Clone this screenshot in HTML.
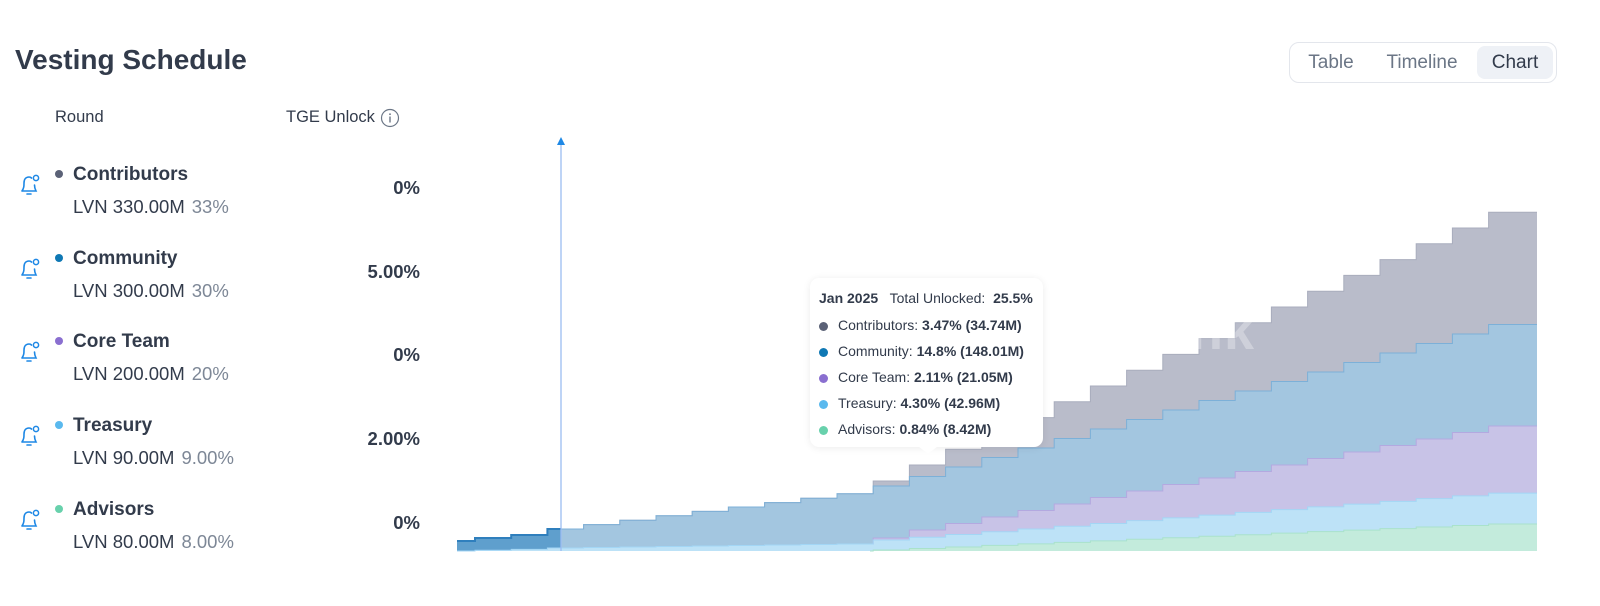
<!DOCTYPE html>
<html><head><meta charset="utf-8"><style>
*{margin:0;padding:0;box-sizing:border-box}
body{width:1600px;height:606px;background:#fff;font-family:"Liberation Sans",sans-serif;position:relative;overflow:hidden;color:#323b4b}
.abs{position:absolute;white-space:nowrap}
.title{left:15px;top:44px;font-size:28px;font-weight:bold;color:#323b4b}
.tabs{left:1289px;top:42px;width:268px;height:41px;border:1px solid #e3e6ec;border-radius:10px}
.tab{position:absolute;top:3px;height:33px;line-height:33px;font-size:19px;color:#6b7686;text-align:center}
.hdr{font-size:16.5px;color:#323b4b;top:108px}
.name{font-size:19px;font-weight:bold;color:#323b4b}
.sub{font-size:18.5px;color:#323b4b}
.sub span{color:#7d8796;margin-left:7px}
.pct{font-size:18.5px;font-weight:bold;color:#323b4b;right:1180px;text-align:right}
.dot{width:8px;height:8px;border-radius:50%}
.tip{left:810px;top:278px;width:233px;height:169px;background:#fff;border-radius:9px;box-shadow:0 1px 8px rgba(0,0,0,.08);font-size:14px;color:#323b4b}
.tip .r{position:absolute;left:28px}
.tip .d{position:absolute;left:9px;width:9px;height:9px;border-radius:50%}
</style></head><body>
<div class="abs title">Vesting Schedule</div>
<div class="abs tabs">
<div class="tab" style="left:3px;width:76px">Table</div>
<div class="tab" style="left:82px;width:100px">Timeline</div>
<div class="tab" style="left:187px;width:76px;background:#eef1f6;border-radius:8px;color:#323b4b">Chart</div>
</div>
<div class="abs hdr" style="left:55px">Round</div>
<div class="abs hdr" style="left:286px">TGE Unlock</div>
<svg class="abs" style="left:380px;top:108px" width="20" height="20"><circle cx="10" cy="10" r="8.5" fill="none" stroke="#6b7686" stroke-width="1.2"/><rect x="9.3" y="8.5" width="1.4" height="6" fill="#6b7686"/><circle cx="10" cy="6.2" r="0.9" fill="#6b7686"/></svg>
<div id="rows"></div>
<svg class="abs" style="left:0;top:0" width="1600" height="606" id="ch"></svg>
<div class="abs" style="left:1050px;top:300px;font-size:54px;font-weight:bold;color:rgba(255,255,255,0.3);letter-spacing:1px">ptorank</div>
<div class="abs tip">
<div class="r" style="left:9px;top:12px"><b>Jan 2025</b>&nbsp;&nbsp; Total Unlocked:&nbsp; <b>25.5%</b></div>
<div class="d" style="top:44px;background:#5b6277"></div><div class="r" style="top:39px">Contributors: <b>3.47% (34.74M)</b></div>
<div class="d" style="top:70px;background:#0f78b4"></div><div class="r" style="top:65px">Community: <b>14.8% (148.01M)</b></div>
<div class="d" style="top:96px;background:#8a6fd0"></div><div class="r" style="top:91px">Core Team: <b>2.11% (21.05M)</b></div>
<div class="d" style="top:122px;background:#5ab9ee"></div><div class="r" style="top:117px">Treasury: <b>4.30% (42.96M)</b></div>
<div class="d" style="top:148px;background:#68d1ac"></div><div class="r" style="top:143px">Advisors: <b>0.84% (8.42M)</b></div>
</div>
<svg class="abs" style="left:918px;top:446px" width="20" height="10"><path d="M0 0 L10 8 L20 0Z" fill="#fff"/></svg>
<script>
var rows=[["Contributors","#5b6277","LVN 330.00M","33%","0%"],["Community","#0f78b4","LVN 300.00M","30%","5.00%"],["Core Team","#8a6fd0","LVN 200.00M","20%","0%"],["Treasury","#5ab9ee","LVN 90.00M","9.00%","2.00%"],["Advisors","#68d1ac","LVN 80.00M","8.00%","0%"]];
var h="";
rows.forEach(function(r,i){var y=164+i*83.7;
h+='<svg class="abs" style="left:17px;top:'+(y+8)+'px" width="26" height="26"><path d="M5 19 C7 16 7 14 7 11 C7 7 9 5 12 5 M12 5 C13 5 14 5.5 14.5 6 M5 19 H19 C18 17 17.5 16 17.5 13 M10 22 H14" fill="none" stroke="#1e88e5" stroke-width="1.6" stroke-linecap="round"/><circle cx="19" cy="6" r="2.6" fill="none" stroke="#1e88e5" stroke-width="1.5"/></svg>';
h+='<div class="abs dot" style="left:55px;top:'+(y+6)+'px;background:'+r[1]+'"></div>';
h+='<div class="abs name" style="left:73px;top:'+y+'px">'+r[0]+'</div>';
h+='<div class="abs sub" style="left:73px;top:'+(y+32)+'px">'+r[2]+'<span>'+r[3]+'</span></div>';
h+='<div class="abs pct" style="top:'+(y+13)+'px">'+r[4]+'</div>';});
document.getElementById('rows').innerHTML=h;
var N=30,xs=[457];for(var i=0;i<=28;i++)xs.push(475+36.2*i);xs.push(1537);
var B=551,tr=[],ad=[],pu=[],bl=[],gr=[];
for(var s=0;s<N;s++){
 var t=s<3?551-s*0.8:(s<12?548-(s-3)*0.5:540-(s-12)*2.76);
 var a=s<12?B:550-(s-12)*1.53;
 var p=s<12?t:(s==12?t-2:530-(s-13)*6.5);
 var b=s<3?[541,538,535][s]:(s<12?529-(s-3)*4.4:486-(s-12)*9.5);
 var g=s<12?b:(s==12?481:465-(s-13)*15.8);
 tr.push(t);ad.push(a);pu.push(p);bl.push(b);gr.push(g);}
function path(top,bot,x0,x1){var d="",i;
 var pts=[];for(i=0;i<N;i++){var a=Math.max(xs[i],x0),b=Math.min(xs[i+1],x1);if(b<=a)continue;pts.push([a,b,top[i],bot?bot[i]:B]);}
 d="M"+pts[0][0]+" "+pts[0][2];pts.forEach(function(p){d+=" L"+p[0]+" "+p[2]+" L"+p[1]+" "+p[2];});
 for(i=pts.length-1;i>=0;i--){d+=" L"+pts[i][1]+" "+pts[i][3]+" L"+pts[i][0]+" "+pts[i][3];}
 return d+"Z";}
function line(top,x0,x1){var d="",f=1;for(var i=0;i<N;i++){var a=Math.max(xs[i],x0),b=Math.min(xs[i+1],x1);if(b<=a)continue;d+=(f?"M":" L")+a+" "+top[i]+" L"+b+" "+top[i];f=0;}return d;}
var o="";
o+='<path d="'+path(gr,bl,457,1537)+'" fill="#b9bcca"/>';
o+='<path d="'+path(bl,pu,561,1537)+'" fill="#a3c6e0"/>';
o+='<path d="'+path(bl,pu,457,561)+'" fill="#5f9fcd"/>';
o+='<path d="'+path(pu,tr,457,1537)+'" fill="#c8c3e7"/>';
o+='<path d="'+path(tr,ad,457,1537)+'" fill="#bde2f7"/>';
o+='<path d="'+path(ad,null,457,1537)+'" fill="#c3ebdc"/>';
o+='<path d="'+line(gr,457,1537)+'" fill="none" stroke="#a9adbd" stroke-width="1"/>';
o+='<path d="'+line(bl,561,1537)+'" fill="none" stroke="#7cb0d8" stroke-width="1"/>';
o+='<path d="'+line(bl,457,561)+'" fill="none" stroke="#2f7fbd" stroke-width="2"/>';
o+='<path d="'+line(pu,870,1537)+'" fill="none" stroke="#b3a9e0" stroke-width="1"/>';
o+='<path d="'+line(tr,457,1537)+'" fill="none" stroke="#a3d6f5" stroke-width="1"/>';
o+='<path d="'+line(ad,870,1537)+'" fill="none" stroke="#a9e2cb" stroke-width="1"/>';
o+='<line x1="561" y1="140" x2="561" y2="551" stroke="#9bbcf2" stroke-width="1.3"/><path d="M557 145 L561 137 L565 145Z" fill="#1e88e5"/>';
document.getElementById('ch').innerHTML=o;
</script>
</body></html>
